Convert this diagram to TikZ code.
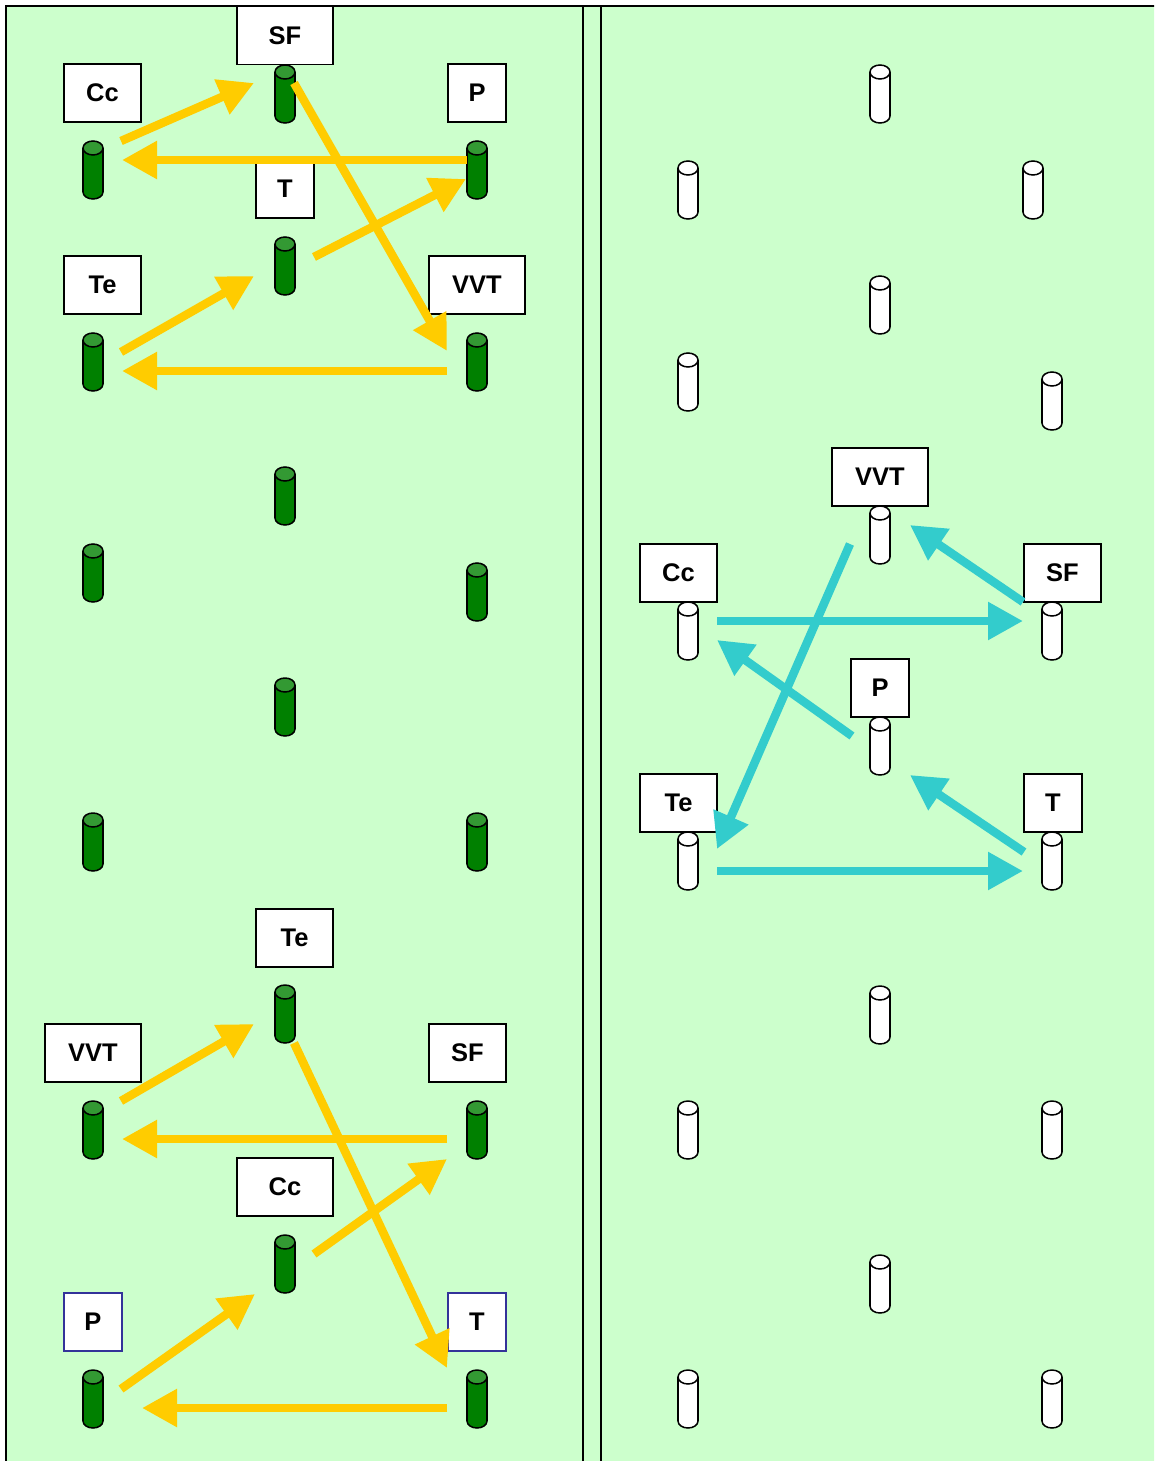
\documentclass[tikz,border=0pt]{standalone}
\usepackage{fontspec}
\setmainfont{Liberation Sans}
\usetikzlibrary{arrows.meta}
\definecolor{bg}{HTML}{CCFFCC}
\definecolor{gold}{HTML}{FFCC00}
\definecolor{teal2}{HTML}{33CCCC}
\definecolor{cgreen}{HTML}{008000}
\definecolor{cgtop}{HTML}{339933}
\definecolor{navy2}{HTML}{333399}
\tikzset{
  pics/cyl/.style 2 args={code={
    \path[fill=#1,draw=black,line width=1.5pt] (0,51) ellipse[x radius=10,y radius=7];
    \path[fill=#1] (-10,7) rectangle (10,51);
    \draw[line width=1.5pt] (-10,7) -- (-10,51) (10,7) -- (10,51);
    \path[fill=#2,draw=black,line width=1.5pt] (0,7) ellipse[x radius=10,y radius=7];
  }},
  lbl/.style={draw=black,fill=white,line width=1.4pt,minimum height=58pt,inner sep=0pt,
    font=\fontsize{25.5}{30}\selectfont\bfseries},
  wone/.style={minimum width=58pt},
  wtwo/.style={minimum width=77pt},
  wthree/.style={minimum width=96pt},
  navybox/.style={draw=navy2},
  yarrow/.style={draw=gold,line width=8.5pt,-{Triangle[length=35pt,width=36pt]}},
  tarrow/.style={draw=teal2,line width=8.5pt,-{Triangle[length=35pt,width=36pt]}},
  frameline/.style={draw=black,line width=2pt}
}
\begin{document}
\begin{tikzpicture}[x=1pt,y=-1pt]
\useasboundingbox (0,0) rectangle (1154,1461);
\clip (0,0) rectangle (1154,1461);
% background and frame
\fill[bg] (6,6) rectangle (1170,1480);
\draw[frameline] (1170,6) -- (6,6) -- (6,1480);
\draw[frameline] (583,6) -- (583,1480);
\draw[frameline] (601,6) -- (601,1480);

% ---------- left panel cylinders (green) ----------
\foreach \n/\x/\y in {gA/285/65, gB/93/141, gC/477/141, gD/285/237, gE/93/333, gF/477/333,
  gG/285/467, gH/93/544, gI/477/563, gJ/285/678, gK/93/813, gL/477/813,
  gM/285/985, gN/93/1101, gO/477/1101, gP/285/1235, gQ/93/1370, gR/477/1370}{
  \coordinate (\n) at (\x,\y);
  \pic at (\n) {cyl={cgreen}{cgtop}};
}
% ---------- right panel cylinders (white) ----------
\foreach \n/\x/\y in {wA/880/65, wB/688/161, wC/1033/161, wD/880/276, wE/688/353, wF/1052/372,
  wG/880/506, wH/688/602, wI/1052/602, wJ/880/717, wK/688/832, wL/1052/832,
  wM/880/986, wN/688/1101, wO/1052/1101, wP/880/1255, wQ/688/1370, wR/1052/1370}{
  \coordinate (\n) at (\x,\y);
  \pic at (\n) {cyl={white}{white}};
}

% ---------- labels ----------
\node[lbl,wthree] (lSF)  at (285,35.5) {SF};
\node[lbl,wtwo]   (lCc)  at (102.5,93) {Cc};
\node[lbl,wone]   (lP)   at (477,93) {P};
\node[lbl,wone]   (lT)   at (285,189) {T};
\node[lbl,wtwo]   (lTe)  at (102.5,285) {Te};
\node[lbl,wthree] (lVVT) at (477,285) {VVT};

\node[lbl,wtwo]   (bTe)  at (294.5,938) {Te};
\node[lbl,wthree] (bVVT) at (93,1053) {VVT};
\node[lbl,wtwo]   (bSF)  at (467.5,1053) {SF};
\node[lbl,wthree] (bCc)  at (285,1187) {Cc};
\node[lbl,wone,navybox] (bP) at (93,1322) {P};
\node[lbl,wone,navybox] (bT) at (477,1322) {T};

\node[lbl,wthree] (rVVT) at (880,477) {VVT};
\node[lbl,wtwo]   (rCc)  at (678.5,573) {Cc};
\node[lbl,wtwo]   (rSF)  at (1062.5,573) {SF};
\node[lbl,wone]   (rP)   at (880,688) {P};
\node[lbl,wtwo]   (rTe)  at (678.5,803) {Te};
\node[lbl,wone]   (rT)   at (1053,803) {T};

% ---------- arrow end points ----------
\coordinate (a1s) at (121,141);  \coordinate (a1e) at (254,83);
\coordinate (a2s) at (467,160);  \coordinate (a2e) at (122,160);
\coordinate (a3s) at (294,83);   \coordinate (a3e) at (447,351);
\coordinate (a4s) at (314,257);  \coordinate (a4e) at (466,179);
\coordinate (a5s) at (121,352);  \coordinate (a5e) at (254,276);
\coordinate (a6s) at (447,371);  \coordinate (a6e) at (122,371);

\coordinate (b1s) at (121,1101); \coordinate (b1e) at (254,1024);
\coordinate (b2s) at (447,1139); \coordinate (b2e) at (122,1139);
\coordinate (b3s) at (294,1043); \coordinate (b3e) at (447,1368);
\coordinate (b4s) at (314,1254); \coordinate (b4e) at (447,1159);
\coordinate (b5s) at (121,1389); \coordinate (b5e) at (255,1294);
\coordinate (b6s) at (447,1408); \coordinate (b6e) at (142,1408);

\coordinate (c1s) at (850,544);  \coordinate (c1e) at (717,849);
\coordinate (c2s) at (1023,602); \coordinate (c2e) at (910,525);
\coordinate (c3s) at (717,621);  \coordinate (c3e) at (1023,621);
\coordinate (c4s) at (852,736);  \coordinate (c4e) at (717,640);
\coordinate (c5s) at (1024,852); \coordinate (c5e) at (910,775);
\coordinate (c6s) at (717,871);  \coordinate (c6e) at (1023,871);

% ---------- arrows ----------
\foreach \k in {a1,a2,a3,a4,a5,a6,b1,b2,b3,b4,b5,b6}{
  \draw[yarrow] (\k s) -- (\k e);
}
\foreach \k in {c1,c2,c3,c4,c5,c6}{
  \draw[tarrow] (\k s) -- (\k e);
}
\end{tikzpicture}
\end{document}
